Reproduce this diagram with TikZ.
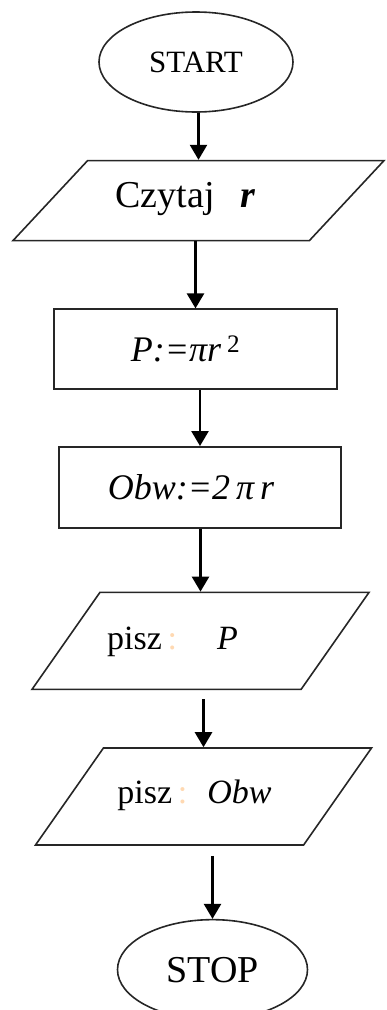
\documentclass[tikz,border=0pt]{standalone}
\usepackage{fontspec}
\setmainfont{Liberation Serif}
\usetikzlibrary{positioning, arrows.meta, shapes.geometric}

\begin{document}
\begin{tikzpicture}[
    % styles
    terminal/.style={ellipse, draw=black!85, line width=1.6pt, minimum width=194pt, minimum height=100pt, inner sep=0pt},
    io/.style={trapezium, draw=black!85, line width=1.6pt, trapezium stretches body, inner sep=0pt, font=\fontsize{34}{38}\selectfont},
    process/.style={rectangle, draw=black!85, line width=1.6pt, minimum width=283pt, minimum height=80pt, inner sep=0pt, font=\fontsize{36}{40}\selectfont\itshape},
    myarrow/.style={-{Triangle[width=17pt,length=15pt]}, line width=2.5pt}
]

\useasboundingbox (0,0) rectangle (387pt,-1010pt);

% start + input
\node[terminal, font=\fontsize{31}{34}\selectfont] (start) at (196pt,-62pt) {START};
\node[io, below=47pt of start, xshift=2.5pt, minimum width=371pt, text height=47pt, text depth=33pt,
      trapezium left angle=47, trapezium right angle=133, font=\fontsize{38}{42}\selectfont] (read)
      {Czytaj\hspace{26pt}\textbf{\textit{r}}\hspace*{26pt}};

% calculations
\node[process, below=67pt of read, xshift=-3pt] (area) {P:=πr\,\textsuperscript{\upshape 2}\hspace*{20pt}};
\node[process, below=56pt of area, xshift=4.5pt, minimum width=282pt, minimum height=81pt] (circ) {Obw:=2\,π\,r\hspace*{18pt}};

% output + stop
\node[io, below=63pt of circ, xshift=0.5pt, minimum width=337pt, text height=57pt, text depth=40pt,
      trapezium left angle=55, trapezium right angle=125] (outP)
      {pisz\,{\color{orange!30}:}\hspace{40pt}\textit{P}\hspace*{56pt}};
\node[io, below=57pt of outP, xshift=3pt, minimum width=336pt, text height=55pt, text depth=42pt,
      trapezium left angle=55, trapezium right angle=125] (outObw)
      {pisz\,{\color{orange!30}:}\hspace{20pt}\textit{Obw}\hspace*{18pt}};
\node[terminal, below=73pt of outObw, xshift=9pt, minimum width=190pt, font=\fontsize{38}{42}\selectfont] (stop) {STOP};

% arrows
\draw[myarrow] (start.south -| read.north) -- (read.north);
\draw[myarrow] (read.south -| area.north) -- (area.north);
\draw[myarrow] (area.south -| circ.north) -- (circ.north);
\draw[myarrow] (circ.south -| outP.north) -- (outP.north);
\draw[myarrow, shorten <=9pt] (outP.south -| outObw.north) -- (outObw.north);
\draw[myarrow, shorten <=10pt] (outObw.south -| stop.north) -- (stop.north);

\end{tikzpicture}
\end{document}
